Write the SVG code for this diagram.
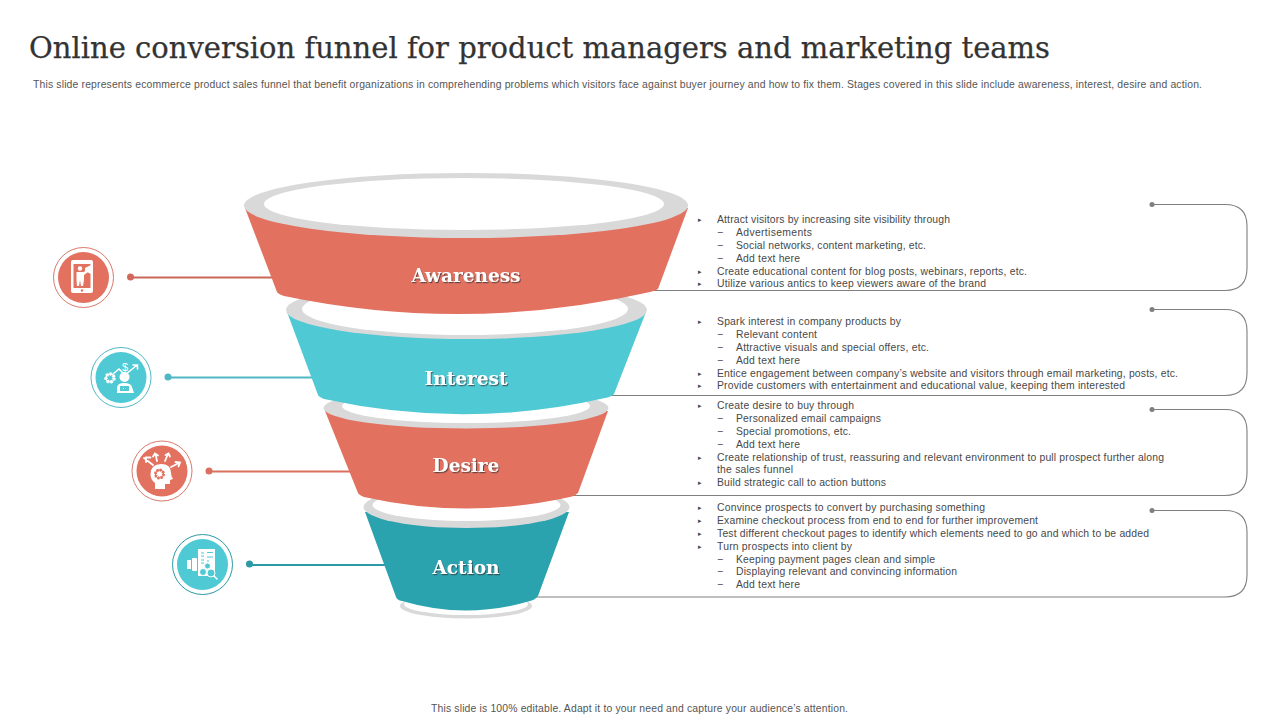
<svg xmlns="http://www.w3.org/2000/svg" width="1280" height="720" viewBox="0 0 1280 720">
<style>
text{font-family:"Liberation Sans",Arial,sans-serif;fill:#484848}
.title{font-family:"DejaVu Serif","Liberation Serif",serif;font-size:29px;fill:#333;stroke:#333;stroke-width:0.25}
.sub{font-size:10.4px;fill:#555}
.b{font-size:10.4px}
.m{font-family:"DejaVu Sans",sans-serif;font-size:7px}
.lab{font-family:"DejaVu Serif","Liberation Serif",serif;font-size:18.5px;font-weight:700;fill:#fff;text-anchor:middle;filter:url(#sh)}
.gray{fill:#d9d9d9}.white{fill:#fff}
.sal{fill:#e37160}.cy{fill:#4fc9d4}.te{fill:#2ba3af}
.ring{fill:#fff;stroke-width:1}
.ic{fill:#fff}
.ics{fill:none;stroke:#fff;stroke-linecap:round}
.rc{fill:none;stroke:#7f7f7f;stroke-width:1.1}
.rd{fill:#7f7f7f}
</style>
<defs>
<filter id="sh" x="-10%" y="-20%" width="125%" height="150%"><feDropShadow dx="1" dy="1.2" stdDeviation="0.7" flood-color="#333" flood-opacity="0.7"/></filter>
</defs>
<text class="title" x="29" y="58" textLength="1021">Online conversion funnel for product managers and marketing teams</text>
<text class="sub" x="33" y="87.5" textLength="1169">This slide represents ecommerce product sales funnel that benefit organizations in comprehending problems which visitors face against buyer journey and how to fix them. Stages covered in this slide include awareness, interest, desire and action.</text>

<g id="connectors">
<path d="M131 277.500H275" fill="none" stroke="#c9685a" stroke-width="1.8"/><circle cx="130.500" cy="277" r="3.500" fill="#d0695b"/>
<path d="M168 377.500H314" fill="none" stroke="#4fb8c4" stroke-width="1.8"/><circle cx="168" cy="377" r="3.500" fill="#4fb8c4"/>
<path d="M209 471.500H352" fill="none" stroke="#d9705f" stroke-width="1.8"/><circle cx="209" cy="471" r="3.500" fill="#d9705f"/>
<path d="M250 565H388" fill="none" stroke="#2a9aa6" stroke-width="1.8"/><circle cx="249.500" cy="564" r="3.500" fill="#2a9aa6"/>
<path class="rc" d="M1152 204.500H1225Q1247 204.500 1247 226V268Q1247 290.500 1225 290.500H650"/><circle class="rd" cx="1152" cy="204.500" r="2.500"/>
<path class="rc" d="M1152 309.500H1225Q1247 309.500 1247 331V373Q1247 395.500 1225 395.500H608"/><circle class="rd" cx="1152" cy="309.500" r="2.500"/>
<path class="rc" d="M1152 409.500H1225Q1247 409.500 1247 431V473Q1247 495.500 1225 495.500H572"/><circle class="rd" cx="1152" cy="409.500" r="2.500"/>
<path class="rc" d="M1152 510.500H1225Q1247 510.500 1247 532V575Q1247 597 1225 597H532"/><circle class="rd" cx="1152" cy="510.500" r="2.500"/>
</g>

<g id="action">
<ellipse class="gray" cx="466" cy="606" rx="66" ry="12.500"/><ellipse class="white" cx="466" cy="604" rx="62" ry="11"/>
<path class="te" d="M365 512L396 597Q397 600 402 601Q466 620 530 601Q535 600 538 596L569 512Z"/>
<ellipse class="gray" cx="466.500" cy="507" rx="103" ry="21"/><ellipse class="white" cx="466.500" cy="505" rx="94" ry="16"/>
<text class="lab" x="466" y="574">Action</text>
</g>
<g id="desire">
<path class="sal" d="M325 411L358 493Q359 495 364 497Q466 520 570 497Q575 496 578 493L608 411Z"/>
<ellipse class="gray" cx="466" cy="408" rx="142.500" ry="20.500"/><ellipse class="white" cx="466" cy="406" rx="124" ry="17"/>
<text class="lab" x="466" y="472">Desire</text>
</g>
<g id="interest">
<path class="cy" d="M287 312L318 395Q319 397 324 399Q466 430 605 398Q611 397 614 394L646 312Z"/>
<ellipse class="gray" cx="466.500" cy="310" rx="180.500" ry="29"/><ellipse class="white" cx="465" cy="309" rx="163" ry="26"/>
<text class="lab" x="466" y="385">Interest</text>
</g>
<g id="awareness">
<path class="sal" d="M245 208L277 292Q278 294 284 296Q466 334 650 292Q655 291 658 289L688 208Z"/>
<ellipse class="gray" cx="466" cy="205.500" rx="222" ry="32.500"/><ellipse class="white" cx="464" cy="204" rx="200" ry="26"/>
<text class="lab" x="466" y="282">Awareness</text>
</g>

<g id="icon-awareness">
<circle class="ring" cx="83.500" cy="277.500" r="30" stroke="#d9796b"/><circle class="sal" cx="83.500" cy="277.500" r="25.500"/>
<rect class="ic" x="71" y="260" width="22" height="33" rx="2"/><rect class="sal" x="73.500" y="264" width="17" height="24"/>
<circle class="ic" cx="80" cy="268.500" r="2.200"/><path class="ic" d="M76.500 272H83.500L87 270L88 272L84 275V280L83 286H81L80 280L79 286H77L76.500 280Z"/>
<path class="ic" d="M85 268L91 265V274L85 271Z"/>
<circle class="sal" cx="82" cy="290.500" r="1.200"/>
</g>
<g id="icon-interest">
<circle class="ring" cx="121" cy="377.500" r="30" stroke="#4fb8c4"/><circle class="cy" cx="121" cy="377.500" r="25.500"/>
<circle cx="110" cy="378" r="4" fill="none" stroke="#fff" stroke-width="3.500" stroke-dasharray="2 1.600"/><circle cx="110" cy="378" r="4" fill="none" stroke="#fff" stroke-width="1.500"/>
<path class="ics" stroke-width="1.600" d="M113 374L119 369L125 375L137 365M133 365H137.500V369"/>
<text x="125" y="371" font-size="11" style="fill:#fff;text-anchor:middle;font-family:'Liberation Sans',sans-serif">$</text>
<circle class="ic" cx="124.500" cy="377" r="5"/>
<path class="ic" d="M117 393V387Q118 383 124 383Q131 383 132 387L134 393Z"/>
<rect class="cy" x="120" y="386" width="9" height="5"/><rect class="ic" x="123" y="388" width="1" height="1"/>
</g>
<g id="icon-desire">
<circle class="ring" cx="162" cy="471" r="30" stroke="#d9796b"/><circle class="sal" cx="162" cy="471" r="25.500"/>
<path class="ic" d="M161 464Q171 464 171 473Q171 476 173 479L170 480V484H165V489H155V483Q150 479 150.500 474Q151 464 161 464Z"/>
<circle cx="159.500" cy="474" r="4" fill="none" stroke="#e37160" stroke-width="3" stroke-dasharray="1.800 1.300"/><circle cx="159.500" cy="474" r="4" fill="none" stroke="#e37160" stroke-width="1.300"/>
<path class="ics" stroke-width="1.800" d="M153 465L144 458M146 462V457.500H150.500M157 461L155.500 454M153 456.500L155 453.500L158 455.500M165 461L168 454M165.500 455L168.500 453.500L170 456.500M171 467L179 463M175.500 462L180 462.500L178.500 466.500"/>
</g>
<g id="icon-action">
<circle class="ring" cx="202.500" cy="564.500" r="30" stroke="#2a9aa6"/><circle class="cy" cx="202.500" cy="564.500" r="25.500"/>
<rect class="ic" x="187" y="560" width="4" height="9"/><rect class="ic" x="192" y="558" width="5" height="13" rx="1"/>
<rect class="ic" x="198" y="549" width="17" height="27"/>
<path fill="none" stroke="#4fc9d4" stroke-width="1.200" d="M201 553H204M201 556H204M207 552.500H213M207 557H213M201 560H204M201 563H204M207 561H209"/>
<circle cx="207.500" cy="566" r="3" fill="#4fc9d4" stroke="#fff" stroke-width="1"/><circle cx="203" cy="572" r="3.500" fill="#4fc9d4" stroke="#fff" stroke-width="1"/><circle cx="211" cy="573" r="4" fill="#4fc9d4" stroke="#fff" stroke-width="1"/>
<path class="ics" stroke-width="1.600" d="M214 576L217 579"/>
</g>

<g id="text-awareness">
<text class="m" x="698" y="221.500">▸</text><text class="b" x="717" y="222.500" textLength="233">Attract visitors by increasing site visibility through</text>
<text class="b" x="717" y="235.500">−</text><text class="b" x="736" y="235.500" textLength="76">Advertisements</text>
<text class="b" x="717" y="248.500">−</text><text class="b" x="736" y="248.500" textLength="190">Social networks, content marketing, etc.</text>
<text class="b" x="717" y="261.500">−</text><text class="b" x="736" y="261.500" textLength="64">Add text here</text>
<text class="m" x="698" y="273.500">▸</text><text class="b" x="717" y="274.500" textLength="310">Create educational content for blog posts, webinars, reports, etc.</text>
<text class="m" x="698" y="285.500">▸</text><text class="b" x="717" y="286.500" textLength="269">Utilize various antics to keep viewers aware of the brand</text>
</g>
<g id="text-interest">
<text class="m" x="698" y="323.500">▸</text><text class="b" x="717" y="324.500" textLength="184">Spark interest in company products by</text>
<text class="b" x="717" y="337.500">−</text><text class="b" x="736" y="337.500" textLength="81">Relevant content</text>
<text class="b" x="717" y="350.500">−</text><text class="b" x="736" y="350.500" textLength="193">Attractive visuals and special offers, etc.</text>
<text class="b" x="717" y="363.500">−</text><text class="b" x="736" y="363.500" textLength="64">Add text here</text>
<text class="m" x="698" y="375.500">▸</text><text class="b" x="717" y="376.500" textLength="461">Entice engagement between company’s website and visitors through email marketing, posts, etc.</text>
<text class="m" x="698" y="387.500">▸</text><text class="b" x="717" y="388.500" textLength="408">Provide customers with entertainment and educational value, keeping them interested</text>
</g>
<g id="text-desire">
<text class="m" x="698" y="407.500">▸</text><text class="b" x="717" y="408.500" textLength="137">Create desire to buy through</text>
<text class="b" x="717" y="421.500">−</text><text class="b" x="736" y="421.500" textLength="145">Personalized email campaigns</text>
<text class="b" x="717" y="434.500">−</text><text class="b" x="736" y="434.500" textLength="115">Special promotions, etc.</text>
<text class="b" x="717" y="447.500">−</text><text class="b" x="736" y="447.500" textLength="64">Add text here</text>
<text class="m" x="698" y="459.500">▸</text><text class="b" x="717" y="460.500" textLength="447">Create relationship of trust, reassuring and relevant environment to pull prospect further along</text>
<text class="b" x="717" y="472.500" textLength="76">the sales funnel</text>
<text class="m" x="698" y="484.500">▸</text><text class="b" x="717" y="485.500" textLength="169">Build strategic call to action buttons</text>
</g>
<g id="text-action">
<text class="m" x="698" y="509.500">▸</text><text class="b" x="717" y="510.500" textLength="268">Convince prospects to convert by purchasing something</text>
<text class="m" x="698" y="522.500">▸</text><text class="b" x="717" y="523.500" textLength="321">Examine checkout process from end to end for further improvement</text>
<text class="m" x="698" y="535.500">▸</text><text class="b" x="717" y="536.500" textLength="432">Test different checkout pages to identify which elements need to go and which to be added</text>
<text class="m" x="698" y="548.500">▸</text><text class="b" x="717" y="549.500" textLength="135">Turn prospects into client by</text>
<text class="b" x="717" y="562.500">−</text><text class="b" x="736" y="562.500" textLength="199">Keeping payment pages clean and simple</text>
<text class="b" x="717" y="574.500">−</text><text class="b" x="736" y="574.500" textLength="221">Displaying relevant and convincing information</text>
<text class="b" x="717" y="587.500">−</text><text class="b" x="736" y="587.500" textLength="64">Add text here</text>
</g>
<text class="sub" x="431" y="711.500" textLength="417">This slide is 100% editable.  Adapt it to your need and capture your audience’s attention.</text>
</svg>
